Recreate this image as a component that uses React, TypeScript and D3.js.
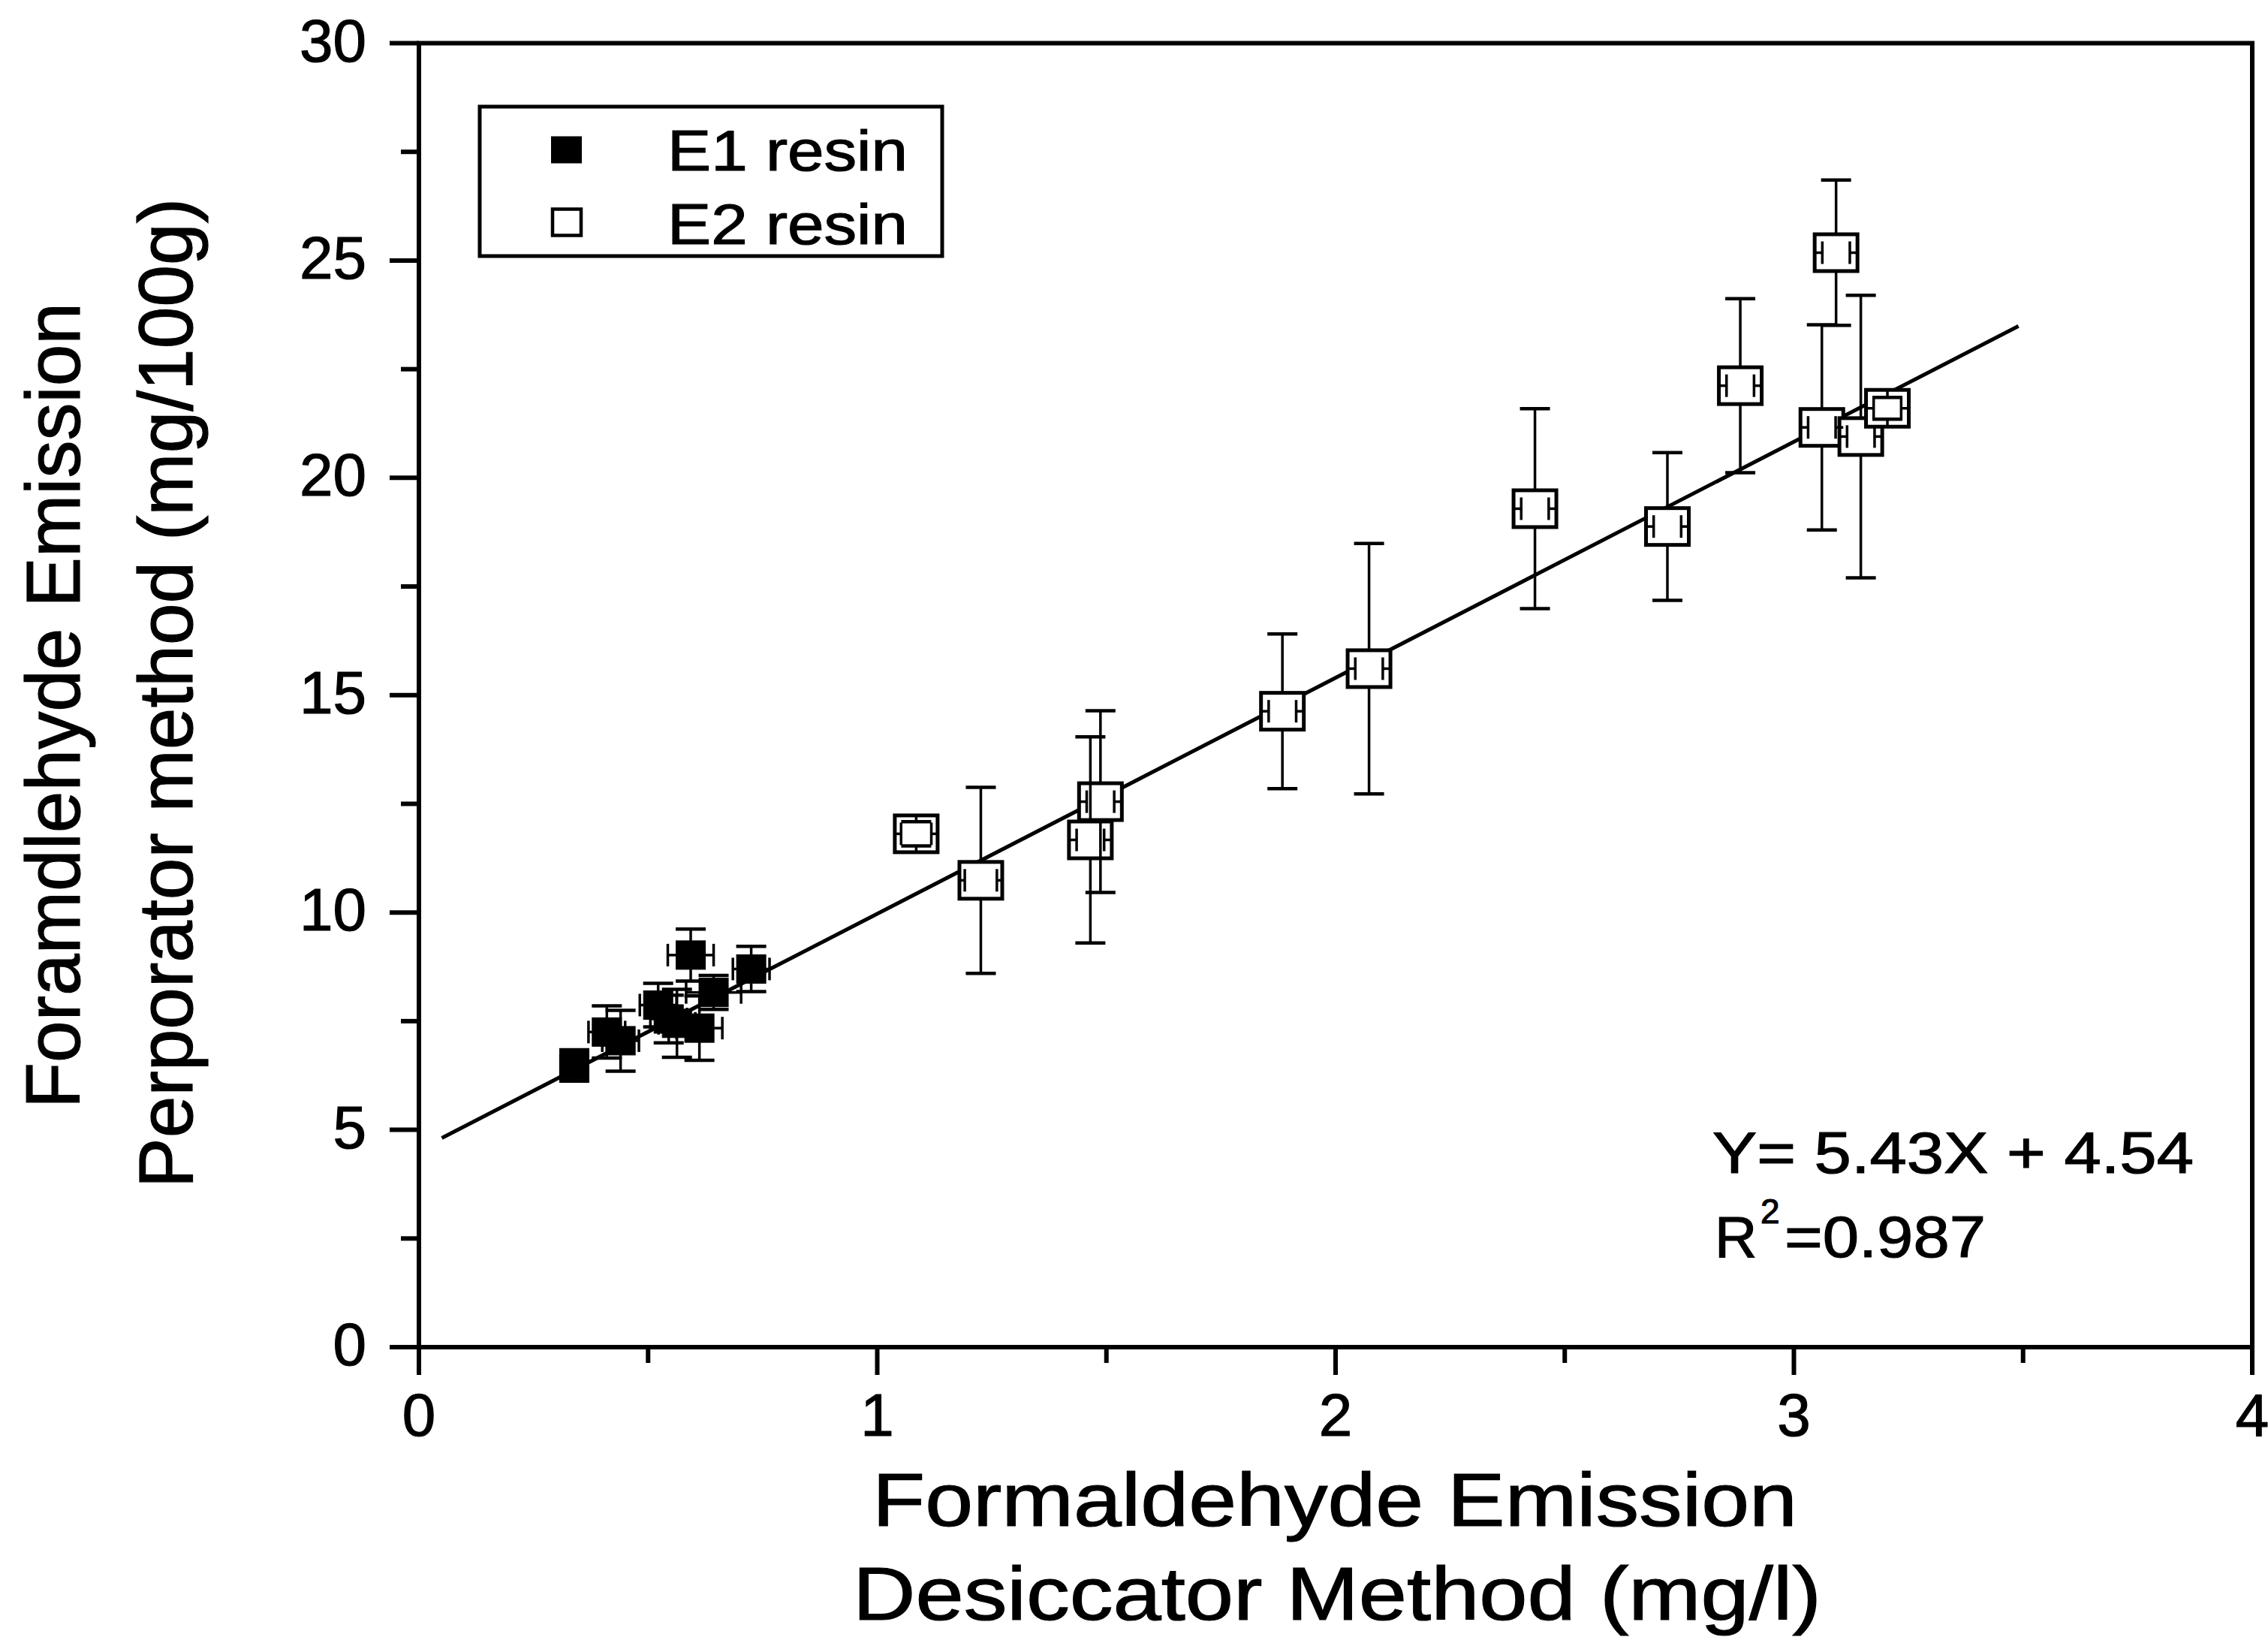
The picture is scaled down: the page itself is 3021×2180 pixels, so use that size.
import React from "react";
import * as d3 from "d3";

// ---- data ----
const e1X = [0.339, 0.41, 0.44, 0.522, 0.545, 0.563, 0.593, 0.612, 0.643, 0.725];
const e1Y = [6.48, 7.25, 7.05, 7.87, 7.55, 7.45, 9.02, 7.34, 8.16, 8.7];
const e1XErr = [0.03, 0.04, 0.04, 0.04, 0.04, 0.04, 0.05, 0.05, 0.06, 0.04];
const e1YErr = [0.36, 0.6, 0.7, 0.5, 0.55, 0.78, 0.6, 0.74, 0.39, 0.52];

const e2X = [1.085, 1.226, 1.465, 1.487, 1.884, 2.073, 2.435, 2.724, 2.883, 3.092, 3.061, 3.146, 3.204];
const e2Y = [11.81, 10.74, 11.67, 12.55, 14.63, 15.61, 19.29, 18.88, 22.12, 25.18, 21.16, 20.95, 21.6];
const e2XErr = [0.033, 0.035, 0.03, 0.03, 0.03, 0.03, 0.03, 0.03, 0.03, 0.03, 0.03, 0.03, 0.03];
const e2YErr = [0.28, 2.14, 2.37, 2.09, 1.78, 2.88, 2.3, 1.7, 2.0, 1.67, 2.36, 3.25, 0.25];

const fitSlope = 5.43;
const fitIntercept = 4.54;
const fitRange = [0.05, 3.49];

const xMajor = [0, 1, 2, 3, 4];
const xMinor = [0.5, 1.5, 2.5, 3.5];
const yMajor = [0, 5, 10, 15, 20, 25, 30];
const yMinor = [2.5, 7.5, 12.5, 17.5, 22.5, 27.5];

const legendLabels = ["E1 resin", "E2 resin"];
const xTitle = ["Formaldehyde Emission", "Desiccator Method (mg/l)"];
const yTitle = ["Foramdlehyde Emission", "Perporator method (mg/100g)"];
const eqLine = "Y= 5.43X + 4.54";
const r2Value = "=0.987";

const FONT = "'Liberation Sans', Arial, Helvetica, sans-serif";

export default function App() {
  const W = 3021;
  const H = 2180;
  const x = d3.scaleLinear().domain([0, 4]).range([558, 3000]);
  const y = d3.scaleLinear().domain([0, 30]).range([1794, 57.5]);

  const fitLine = d3
    .line<number>()
    .x((d) => x(d))
    .y((d) => y(fitSlope * d + fitIntercept));

  const renderPoints = (
    xs: number[],
    ys: number[],
    xe: number[],
    ye: number[],
    mw: number,
    mh: number,
    filled: boolean,
    key: string
  ) => {
    const markers: React.ReactNode[] = [];
    const bars: React.ReactNode[] = [];
    xs.forEach((xv, i) => {
      const cx = x(xv);
      const cy = y(ys[i]);
      markers.push(
        <rect
          key={`${key}m${i}`}
          x={cx - mw / 2}
          y={cy - mh / 2}
          width={mw}
          height={mh}
          fill={filled ? "#000" : "#fff"}
          stroke="#000"
          strokeWidth={filled ? 1 : 5}
        />
      );
      const yTop = y(ys[i] + ye[i]);
      const yBot = y(ys[i] - ye[i]);
      const xL = x(xv - xe[i]);
      const xR = x(xv + xe[i]);
      const capW = 40;
      const capH = 30;
      bars.push(
        <g key={`${key}e${i}`} stroke="#000" strokeWidth={3.5} fill="none">
          <line x1={cx} x2={cx} y1={cy - mh / 2} y2={yTop} />
          <line x1={cx} x2={cx} y1={cy + mh / 2} y2={yBot} />
          <line x1={cx - capW / 2} x2={cx + capW / 2} y1={yTop} y2={yTop} strokeWidth={4.5} />
          <line x1={cx - capW / 2} x2={cx + capW / 2} y1={yBot} y2={yBot} strokeWidth={4.5} />
          <line x1={cx - mw / 2} x2={xL} y1={cy} y2={cy} />
          <line x1={cx + mw / 2} x2={xR} y1={cy} y2={cy} />
          <line x1={xL} x2={xL} y1={cy - capH / 2} y2={cy + capH / 2} />
          <line x1={xR} x2={xR} y1={cy - capH / 2} y2={cy + capH / 2} />
        </g>
      );
    });
    return (
      <g>
        {markers}
        {bars}
      </g>
    );
  };

  const fitPts = [fitRange[0], fitRange[1]];
  const txt = { fill: "#000", stroke: "#000", strokeWidth: 1.2 };

  return (
    <svg
      width={W}
      height={H}
      viewBox={`0 0 ${W} ${H}`}
      style={{ position: "absolute", left: 0, top: 0, background: "#fff" }}
      fontFamily={FONT}
    >
      <rect x={0} y={0} width={W} height={H} fill="#fff" />

      {/* fit line */}
      <path d={fitLine(fitPts) || ""} stroke="#000" strokeWidth={5} fill="none" />

      {/* data */}
      {renderPoints(e1X, e1Y, e1XErr, e1YErr, 39, 38, true, "e1")}
      {renderPoints(e2X, e2Y, e2XErr, e2YErr, 57, 49, false, "e2")}

      {/* frame */}
      <rect
        x={x(0)}
        y={y(30)}
        width={x(4) - x(0)}
        height={y(0) - y(30)}
        fill="none"
        stroke="#000"
        strokeWidth={6}
      />

      {/* x ticks */}
      {xMajor.map((t) => (
        <g key={`xt${t}`}>
          <line x1={x(t)} x2={x(t)} y1={y(0)} y2={y(0) + 37} stroke="#000" strokeWidth={6} />
          <text x={x(t)} y={1912} fontSize={80} textAnchor="middle" {...txt}>
            {t}
          </text>
        </g>
      ))}
      {xMinor.map((t) => (
        <line key={`xm${t}`} x1={x(t)} x2={x(t)} y1={y(0)} y2={y(0) + 21} stroke="#000" strokeWidth={6} />
      ))}

      {/* y ticks */}
      {yMajor.map((t) => (
        <g key={`yt${t}`}>
          <line x1={x(0) - 39} x2={x(0)} y1={y(t)} y2={y(t)} stroke="#000" strokeWidth={6} />
          <text x={488} y={y(t) + 24} fontSize={80} textAnchor="end" {...txt}>
            {t}
          </text>
        </g>
      ))}
      {yMinor.map((t) => (
        <line key={`ym${t}`} x1={x(0) - 24} x2={x(0)} y1={y(t)} y2={y(t)} stroke="#000" strokeWidth={6} />
      ))}

      {/* legend */}
      <rect x={639} y={142} width={616} height={199} fill="#fff" stroke="#000" strokeWidth={5} />
      <rect x={734} y={181.5} width={41} height={36} fill="#000" />
      <rect x={736} y={278.5} width={38} height={35} fill="#fff" stroke="#000" strokeWidth={4.5} />
      <text x={889} y={227} fontSize={76} textLength={320} lengthAdjust="spacingAndGlyphs" {...txt}>
        {legendLabels[0]}
      </text>
      <text x={889} y={325} fontSize={76} textLength={320} lengthAdjust="spacingAndGlyphs" {...txt}>
        {legendLabels[1]}
      </text>

      {/* equation */}
      <text x={2281} y={1562} fontSize={78} textLength={641} lengthAdjust="spacingAndGlyphs" {...txt}>
        {eqLine}
      </text>
      <text x={2284} y={1674} fontSize={78} {...txt}>R</text>
      <text x={2345} y={1629} fontSize={46} {...txt}>2</text>
      <text x={2377} y={1674} fontSize={78} textLength={268} lengthAdjust="spacingAndGlyphs" {...txt}>
        {r2Value}
      </text>

      {/* x title */}
      <text x={1162} y={2032} fontSize={100} textLength={1232} lengthAdjust="spacingAndGlyphs" {...txt}>
        {xTitle[0]}
      </text>
      <text x={1136} y={2157} fontSize={100} textLength={1290} lengthAdjust="spacingAndGlyphs" {...txt}>
        {xTitle[1]}
      </text>

      {/* y title */}
      <text
        transform="translate(106,1476) rotate(-90)"
        fontSize={102}
        textLength={1073}
        lengthAdjust="spacingAndGlyphs"
        {...txt}
      >
        {yTitle[0]}
      </text>
      <text
        transform="translate(256,1582) rotate(-90)"
        fontSize={102}
        textLength={1318}
        lengthAdjust="spacingAndGlyphs"
        {...txt}
      >
        {yTitle[1]}
      </text>
    </svg>
  );
}
